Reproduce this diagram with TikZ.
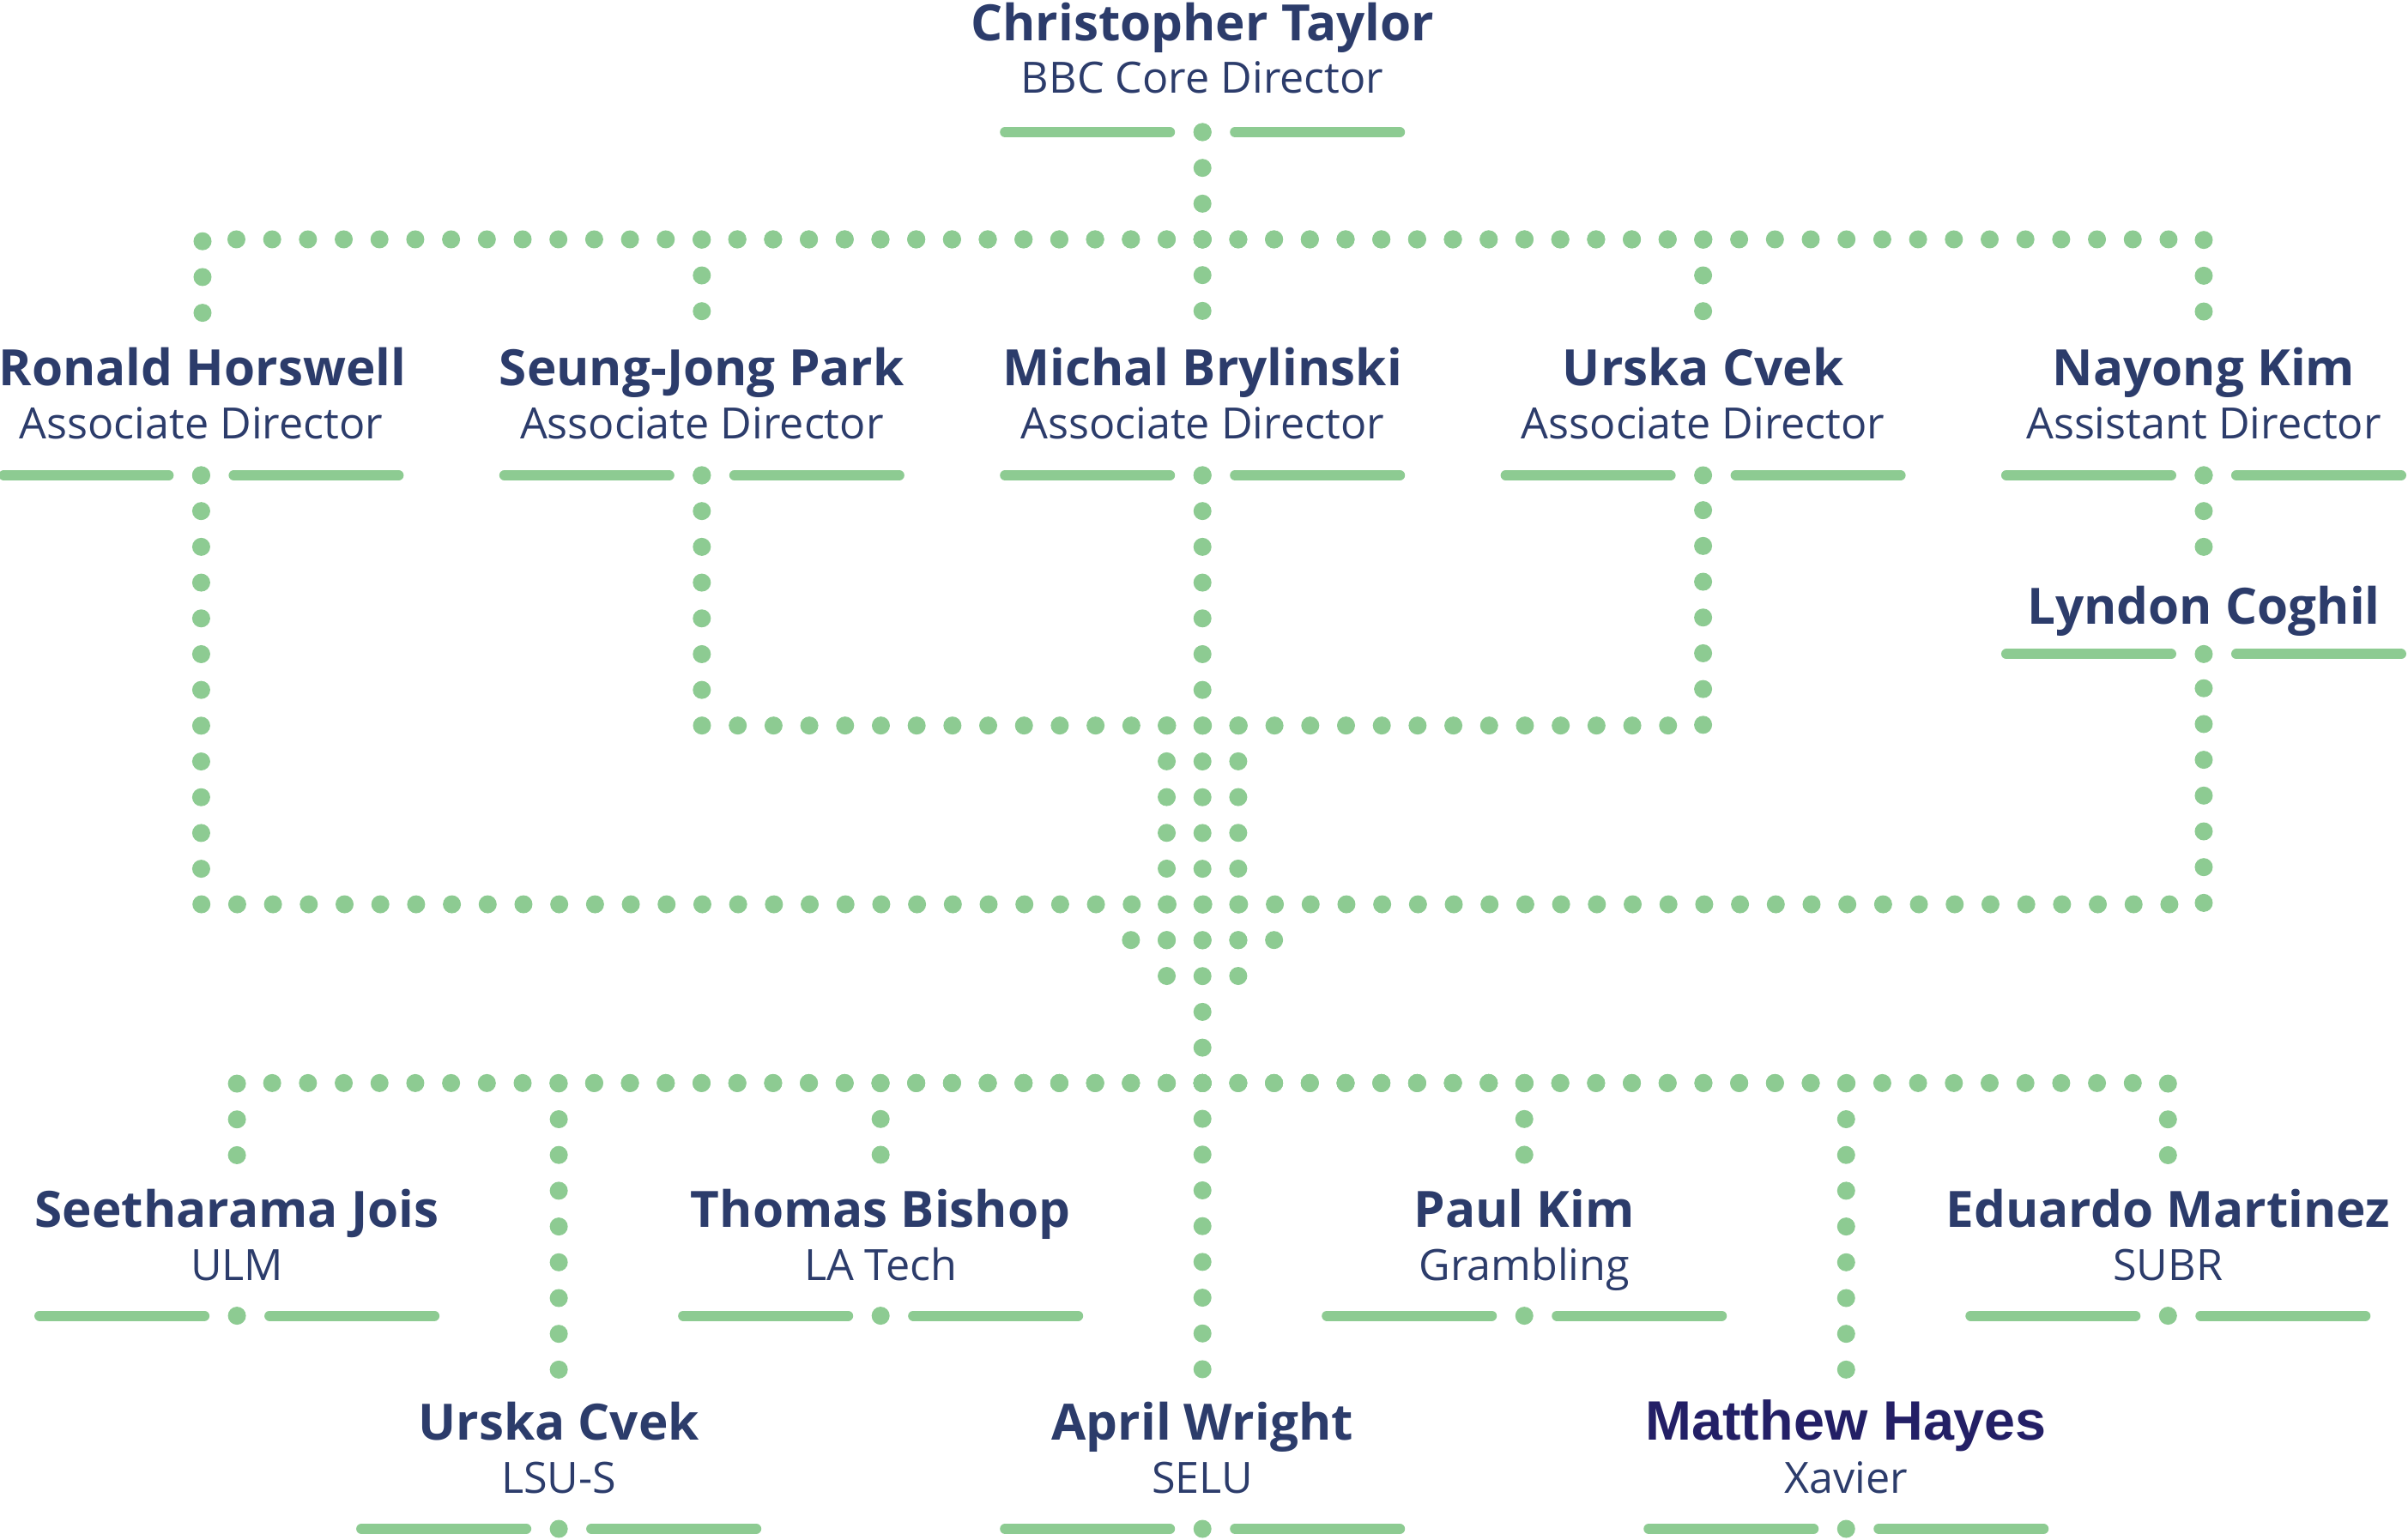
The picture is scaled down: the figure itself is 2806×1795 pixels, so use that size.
\documentclass[tikz,border=0pt]{standalone}
\usepackage{fontspec}
\setmainfont{Open Sans}
\newfontfamily\arialfont{Liberation Sans}
\definecolor{navy}{HTML}{2C3C6B}
\definecolor{deepnavy}{HTML}{231F66}
\definecolor{leaf}{HTML}{8DCB92}
\begin{document}
\begin{tikzpicture}[x=0.01cm, y=-0.01cm,
  pname/.style={anchor=base, text=navy, inner sep=1.5mm, text height=4.6mm, text depth=1.3mm,
    font=\fontsize{16.6}{20}\selectfont\bfseries},
  prole/.style={anchor=base, text=navy, inner sep=0pt, font=\fontsize{14.3}{17}\selectfont},
  link/.style={draw=leaf, line width=2.1mm, line cap=round, dash pattern=on 0pt off 4.167mm},
  bar/.pic={\draw[leaf, line width=1.2mm, line cap=round] (-230,0) -- (-38,0) (38,0) -- (230,0);
    \fill[leaf] (0,0) circle[radius=1.05mm];
    \coordinate (-b) at (0,0);}]
\useasboundingbox (0,0) rectangle (2806,1795);

% director
\node[pname] (ct) at (1401.2,48) {Christopher Taylor};
\node[prole] (ct-r) at (1401.2,109) {BBC Core Director};
\pic (ct) at (1401.2,154) {bar};
\coordinate (top) at (1401.2,279);

% associate and assistant directors
\node[pname] (rh) at (236,450) {Ronald Horswell};
\node[prole] (rh-r) at (234.44,512) {Associate Director};
\pic (rh) at (234.44,554) {bar};
\node[pname] (sp) at (817.82,450) {Seung-Jong Park};
\node[prole] (sp-r) at (817.82,512) {Associate Director};
\pic (sp) at (817.82,554) {bar};
\node[pname] (mb) at (1401.2,450) {Michal Brylinski};
\node[prole] (mb-r) at (1401.2,512) {Associate Director};
\pic (mb) at (1401.2,554) {bar};
\node[pname] (uc) at (1984.58,450) {Urska Cvek};
\node[prole] (uc-r) at (1984.58,512) {Associate Director};
\pic (uc) at (1984.58,554) {bar};
\node[pname] (nk) at (2567.96,450) {Nayong Kim};
\node[prole] (nk-r) at (2567.96,512) {Assistant Director};
\pic (nk) at (2567.96,554) {bar};
\node[pname] (ly) at (2567.96,728) {Lyndon Coghil};
\pic (ly) at (2567.96,762.35) {bar};

\draw[link] (ct-b) -- (top);
\draw[link] (top) -| (rh);
\draw[link] (top) -| (sp);
\draw[link] (top) -- (mb);
\draw[link] (top) -| (uc);
\draw[link] (top) -| (nk);
\draw[link] (nk-b) -- (ly);

% merging lines
\coordinate (bot) at (1401.2,1262.39);
\draw[link] (rh-b) -- ++(0,500.04) -| (ly-b);
\draw[link] (sp-b) -- ++(0,291.69) -| (uc-b);
\draw[link] (mb-b) -- (bot);
\draw[link] (1359.53,845.69) -- (1359.53,1139);
\draw[link] (1442.87,845.69) -- (1442.87,1139);
\draw[link] (1317.86,1095.71) -- (1486,1095.71);

% institutions
\node[pname] (sj) at (276.11,1430) {Seetharama Jois};
\node[prole] (sj-r) at (276.11,1492) {ULM};
\pic (sj) at (276.11,1533.6) {bar};
\node[pname] (tb) at (1026.17,1430) {Thomas Bishop};
\node[prole] (tb-r) at (1026.17,1492) {LA Tech};
\pic (tb) at (1026.17,1533.6) {bar};
\node[pname] (pk) at (1776.23,1430) {Paul Kim};
\node[prole] (pk-r) at (1776.23,1492) {Grambling};
\pic (pk) at (1776.23,1533.6) {bar};
\node[pname] (em) at (2526.29,1430) {Eduardo Martinez};
\node[prole] (em-r) at (2526.29,1492) {SUBR};
\pic (em) at (2526.29,1533.6) {bar};
\node[pname] (ucs) at (651.14,1678) {Urska Cvek};
\node[prole] (ucs-r) at (651.14,1740) {LSU-S};
\pic (ucs) at (651.14,1782) {bar};
\node[pname] (aw) at (1401.2,1678) {April Wright};
\node[prole] (aw-r) at (1401.2,1740) {SELU};
\pic (aw) at (1401.2,1782) {bar};
\node[pname, text=deepnavy, font=\arialfont\fontsize{18.4}{22}\selectfont\bfseries] (mh) at (2151.26,1678) {Matthew Hayes};
\node[prole] (mh-r) at (2151.26,1740) {Xavier};
\pic (mh) at (2151.26,1782) {bar};

\draw[link] (bot) -| (sj);
\draw[link] (bot) -| (ucs);
\draw[link] (bot) -| (tb);
\draw[link] (bot) -- (aw);
\draw[link] (bot) -| (pk);
\draw[link] (bot) -| (mh);
\draw[link] (bot) -| (em);
\end{tikzpicture}
\end{document}
